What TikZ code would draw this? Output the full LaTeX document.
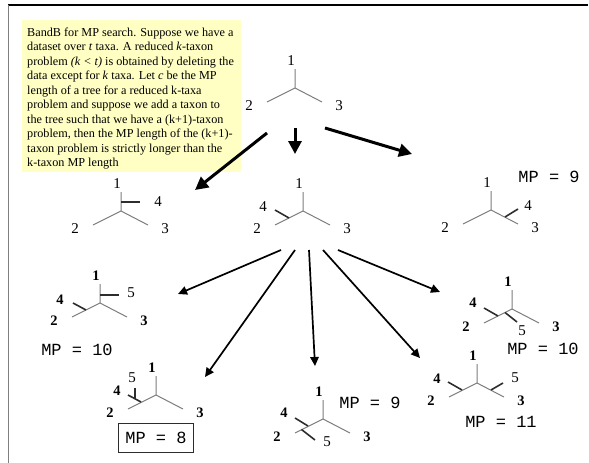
\documentclass[tikz,border=0pt]{standalone}
\usepackage{fontspec}
\setmainfont{Liberation Serif}
\setmonofont{Liberation Mono}
\usetikzlibrary{arrows.meta}
\definecolor{treegray}{RGB}{125,125,125}
\definecolor{addgray}{RGB}{45,45,45}
\definecolor{noteyellow}{RGB}{255,255,196}
\tikzset{
  branch/.style={draw=treegray, line width=1pt},
  addbranch/.style={draw=addgray, line width=1.6pt},
  lab/.style={inner sep=0pt, font=\fontsize{15}{17}\selectfont},
  blab/.style={inner sep=0pt, font=\fontsize{14.5}{17}\selectfont\bfseries},
  mptext/.style={inner sep=0pt, font=\fontsize{17}{19}\ttfamily},
  bigarrow/.style={line width=3pt, -{Triangle[length=13pt,width=13pt]}},
  smallarrow/.style={line width=1.7pt, -{Triangle[length=9pt,width=8.5pt]}},
}
\newcommand{\ttree}[4]{%
  \begin{scope}[shift={#2}]
    \coordinate (#1j) at (0,0);
    \coordinate (#1u) at (0,-19);
    \coordinate (#1l) at (-28,14);
    \coordinate (#1r) at (27,14);
    \draw[branch] (#1j) -- (#1u) (#1j) -- (#1l) (#1j) -- (#1r);
    \node[#3] (#1t1) at (-4,-27) {1};
    \node[#3] (#1t2) at (-46,18) {2};
    \node[#3] (#1t3) at (44,18) {3};
    #4
  \end{scope}}
\begin{document}
\begin{tikzpicture}[x=1pt,y=-1pt]
  \useasboundingbox (0,0) rectangle (589,463);
  % frame
  \coordinate (fl) at (8.3,5);
  \coordinate (fr) at (588,5);
  \coordinate (fb) at (8.3,463);
  \draw[line width=1.3pt, black] (fl) -- (fr);
  \draw[line width=1pt, gray] (fl) -- (fb);
  % note
  \node[fill=noteyellow, minimum width=219pt, minimum height=152pt, inner sep=0pt, anchor=north west] (notebox) at (22,20) {};
  \node[anchor=north west, inner sep=0pt, align=left, font=\fontsize{12.2}{14.5}\selectfont] (note) at (27,27.3)
  {BandB for MP search. Suppose we have a\\
   dataset over \textit{t} taxa. A reduced \textit{k}-taxon\\
   problem \textit{(k < t)} is obtained by deleting the\\
   data except for \textit{k} taxa. Let \textit{c} be the MP\\
   length of a tree for a reduced k-taxa\\
   problem and suppose we add a taxon to\\
   the tree such that we have a (k+1)-taxon\\
   problem, then the MP length of the (k+1)-\\
   taxon problem is strictly longer than the\\
   k-taxon MP length};
  % top tree
  \ttree{T}{(295,88)}{lab}{}
  % level 2
  \ttree{A}{(121,211)}{lab}{
    \coordinate (A4a) at (0,-9); \coordinate (A4b) at (19,-9);
    \draw[addbranch] (A4a) -- (A4b);
    \node[lab] (At4) at (37,-9) {4};}
  \ttree{B}{(303,211)}{lab}{
    \coordinate (B4a) at (-14,7); \coordinate (B4b) at (-28,-1);
    \draw[addbranch] (B4a) -- (B4b);
    \node[lab] (Bt4) at (-40,-4) {4};}
  \ttree{C}{(491,210)}{lab}{
    \coordinate (C4a) at (14,7); \coordinate (C4b) at (27,-1);
    \draw[addbranch] (C4a) -- (C4b);
    \node[lab] (Ct4) at (37,-4) {4};
    \node[mptext] (Cmp) at (58,-33) {MP = 9};}
  % level 3
  \ttree{D}{(100,303)}{blab}{
    \coordinate (D4a) at (-14,7); \coordinate (D4b) at (-27,0);
    \coordinate (D5a) at (0,-8); \coordinate (D5b) at (19,-8);
    \draw[addbranch] (D4a) -- (D4b);
    \draw[addbranch] (D5a) -- (D5b);
    \node[blab] (Dt4) at (-40,-3) {4};
    \node[lab] (Dt5) at (31,-10) {5};
    \node[mptext] (Dmp) at (-23,47) {MP = 10};}
  \ttree{E}{(156,395)}{blab}{
    \coordinate (E4a) at (-15,7); \coordinate (E4b) at (-28,0);
    \coordinate (E5a) at (-21,3.5); \coordinate (E5b) at (-21,-7);
    \draw[addbranch] (E4a) -- (E4b);
    \draw[addbranch] (E5a) -- (E5b);
    \node[blab] (Et4) at (-39,-4) {4};
    \node[lab] (Et5) at (-24,-17) {5};
    \node[mptext, draw=addgray, line width=0.8pt, minimum width=75pt, minimum height=29pt] (Emp) at (0,42.5) {MP = 8};}
  \ttree{F}{(323,419)}{blab}{
    \coordinate (F4a) at (-15,7); \coordinate (F4b) at (-28,-1);
    \coordinate (F5a) at (-21.5,10.5); \coordinate (F5b) at (-8,21);
    \draw[addbranch] (F4a) -- (F4b);
    \draw[addbranch] (F5a) -- (F5b);
    \node[blab] (Ft4) at (-39,-6) {4};
    \node[lab] (Ft5) at (4,23) {5};
    \node[mptext] (Fmp) at (47,-16) {MP = 9};}
  \ttree{G}{(477,383)}{blab}{
    \coordinate (G4a) at (-15,7); \coordinate (G4b) at (-29,-1);
    \coordinate (G5a) at (14,7); \coordinate (G5b) at (26,0);
    \draw[addbranch] (G4a) -- (G4b);
    \draw[addbranch] (G5a) -- (G5b);
    \node[blab] (Gt4) at (-40,-4) {4};
    \node[lab] (Gt5) at (38,-5) {5};
    \node[mptext] (Gmp) at (24,39) {MP = 11};}
  \ttree{H}{(512,309)}{blab}{
    \coordinate (H4a) at (-14,7); \coordinate (H4b) at (-28,-1);
    \coordinate (H5a) at (-7,3.5); \coordinate (H5b) at (5,13);
    \draw[addbranch] (H4a) -- (H4b);
    \draw[addbranch] (H5a) -- (H5b);
    \node[blab] (Ht4) at (-39,-6) {4};
    \node[lab] (Ht5) at (10,22) {5};
    \node[mptext] (Hmp) at (31,40) {MP = 10};}
  % thick arrows from top tree
  \coordinate (a1s) at (267,133); \coordinate (a1e) at (195,190);
  \coordinate (a2s) at (295,128); \coordinate (a2e) at (295,154);
  \coordinate (a3s) at (325,128); \coordinate (a3e) at (412,154);
  \draw[bigarrow] (a1s) -- (a1e);
  \draw[bigarrow] (a2s) -- (a2e);
  \draw[bigarrow] (a3s) -- (a3e);
  % thin arrows from B
  \coordinate (b1s) at (281,250); \coordinate (b1e) at (178,294);
  \coordinate (b2s) at (295,250); \coordinate (b2e) at (205,377);
  \coordinate (b3s) at (309,250); \coordinate (b3e) at (315,366);
  \coordinate (b4s) at (323,250); \coordinate (b4e) at (420,358);
  \coordinate (b5s) at (338,250); \coordinate (b5e) at (440,292);
  \draw[smallarrow] (b1s) -- (b1e);
  \draw[smallarrow] (b2s) -- (b2e);
  \draw[smallarrow] (b3s) -- (b3e);
  \draw[smallarrow] (b4s) -- (b4e);
  \draw[smallarrow] (b5s) -- (b5e);
\end{tikzpicture}
\end{document}
